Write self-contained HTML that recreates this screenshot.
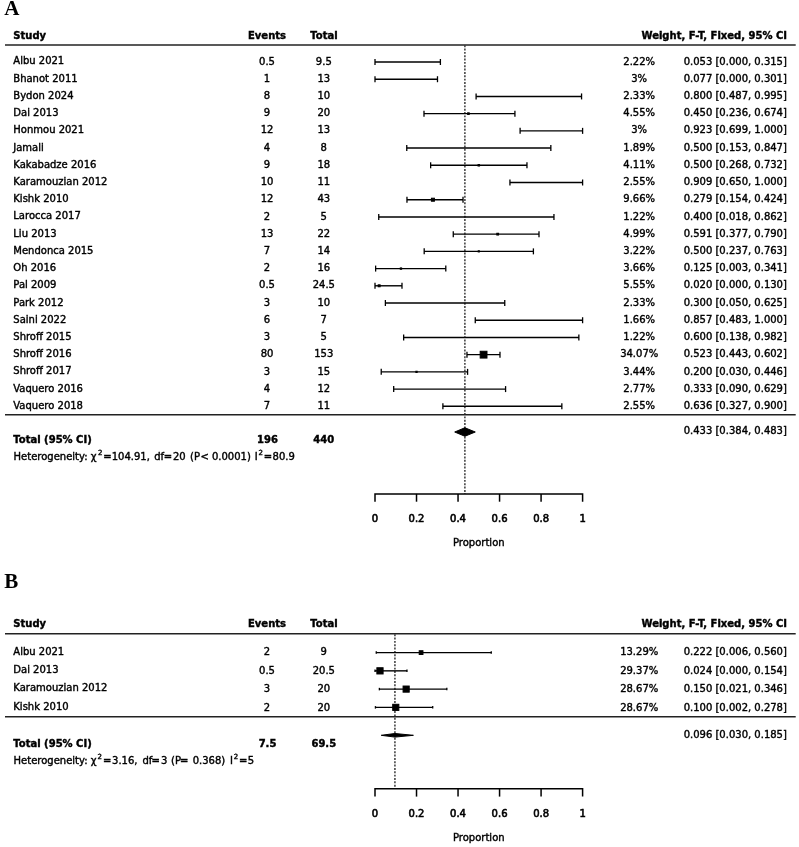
<!DOCTYPE html>
<html><head><meta charset="utf-8"><style>
html,body{margin:0;padding:0;background:#fff;}
svg{display:block;}
text{font-family:"DejaVu Sans",sans-serif;font-size:10px;fill:#000;stroke:#000;stroke-width:0.4px;}
text.tk{stroke-width:0.6px;}
text.lab{font-family:"Liberation Serif",serif;stroke:none;}
line,path,polygon,rect{stroke:#000;fill:#000;}
path{fill:none;}
</style></head><body>
<svg width="799" height="847" viewBox="0 0 799 847">
<text x="4.30" y="15.20" font-weight="bold" style="font-size:21px" class="lab">A</text>
<text x="13.30" y="38.60" font-weight="bold">Study</text>
<text x="267.00" y="38.60" text-anchor="middle" font-weight="bold">Events</text>
<text x="324.00" y="38.60" text-anchor="middle" font-weight="bold">Total</text>
<text x="787.00" y="38.60" text-anchor="end" font-weight="bold">Weight, F-T, Fixed, 95% CI</text>
<line x1="5.00" y1="44.95" x2="795.70" y2="44.95" stroke-width="1.6" style="stroke:#222"/>
<line x1="464.89" y1="44.95" x2="464.89" y2="493.90" stroke-width="1.45" stroke-dasharray="1.95 1.394" stroke-dashoffset="-0.25" style="stroke:#333"/>
<text x="13.30" y="64.45">Albu 2021</text>
<text x="267.00" y="64.60" text-anchor="middle">0.5</text>
<text x="323.80" y="64.60" text-anchor="middle">9.5</text>
<text x="639.20" y="64.60" text-anchor="middle">2.22%</text>
<text x="786.90" y="64.60" text-anchor="end">0.053 [0.000, 0.315]</text>
<line x1="375.00" y1="62.00" x2="440.39" y2="62.00" stroke-width="1.4"/>
<line x1="375.00" y1="59.00" x2="375.00" y2="65.00" stroke-width="1.3"/>
<line x1="440.39" y1="59.00" x2="440.39" y2="65.00" stroke-width="1.3"/>
<text x="13.30" y="81.67">Bhanot 2011</text>
<text x="267.00" y="81.82" text-anchor="middle">1</text>
<text x="323.80" y="81.82" text-anchor="middle">13</text>
<text x="639.20" y="81.82" text-anchor="middle">3%</text>
<text x="786.90" y="81.82" text-anchor="end">0.077 [0.000, 0.301]</text>
<line x1="375.00" y1="79.22" x2="437.49" y2="79.22" stroke-width="1.4"/>
<line x1="375.00" y1="76.22" x2="375.00" y2="82.22" stroke-width="1.3"/>
<line x1="437.49" y1="76.22" x2="437.49" y2="82.22" stroke-width="1.3"/>
<text x="13.30" y="98.89">Bydon 2024</text>
<text x="267.00" y="99.04" text-anchor="middle">8</text>
<text x="323.80" y="99.04" text-anchor="middle">10</text>
<text x="639.20" y="99.04" text-anchor="middle">2.33%</text>
<text x="786.90" y="99.04" text-anchor="end">0.800 [0.487, 0.995]</text>
<line x1="476.10" y1="96.43" x2="581.56" y2="96.43" stroke-width="1.4"/>
<line x1="476.10" y1="93.43" x2="476.10" y2="99.43" stroke-width="1.3"/>
<line x1="581.56" y1="93.43" x2="581.56" y2="99.43" stroke-width="1.3"/>
<text x="13.30" y="116.11">Dai 2013</text>
<text x="267.00" y="116.26" text-anchor="middle">9</text>
<text x="323.80" y="116.26" text-anchor="middle">20</text>
<text x="639.20" y="116.26" text-anchor="middle">4.55%</text>
<text x="786.90" y="116.26" text-anchor="end">0.450 [0.236, 0.674]</text>
<line x1="423.99" y1="113.64" x2="514.92" y2="113.64" stroke-width="1.4"/>
<line x1="423.99" y1="110.64" x2="423.99" y2="116.64" stroke-width="1.3"/>
<line x1="514.92" y1="110.64" x2="514.92" y2="116.64" stroke-width="1.3"/>
<rect x="467.60" y="112.82" width="1.64" height="1.64" stroke="none"/>
<text x="13.30" y="133.33">Honmou 2021</text>
<text x="267.00" y="133.48" text-anchor="middle">12</text>
<text x="323.80" y="133.48" text-anchor="middle">13</text>
<text x="639.20" y="133.48" text-anchor="middle">3%</text>
<text x="786.90" y="133.48" text-anchor="end">0.923 [0.699, 1.000]</text>
<line x1="520.11" y1="130.86" x2="582.60" y2="130.86" stroke-width="1.4"/>
<line x1="520.11" y1="127.86" x2="520.11" y2="133.86" stroke-width="1.3"/>
<line x1="582.60" y1="127.86" x2="582.60" y2="133.86" stroke-width="1.3"/>
<text x="13.30" y="150.55">Jamali</text>
<text x="267.00" y="150.70" text-anchor="middle">4</text>
<text x="323.80" y="150.70" text-anchor="middle">8</text>
<text x="639.20" y="150.70" text-anchor="middle">1.89%</text>
<text x="786.90" y="150.70" text-anchor="end">0.500 [0.153, 0.847]</text>
<line x1="406.76" y1="148.07" x2="550.84" y2="148.07" stroke-width="1.4"/>
<line x1="406.76" y1="145.07" x2="406.76" y2="151.07" stroke-width="1.3"/>
<line x1="550.84" y1="145.07" x2="550.84" y2="151.07" stroke-width="1.3"/>
<text x="13.30" y="167.77">Kakabadze 2016</text>
<text x="267.00" y="167.92" text-anchor="middle">9</text>
<text x="323.80" y="167.92" text-anchor="middle">18</text>
<text x="639.20" y="167.92" text-anchor="middle">4.11%</text>
<text x="786.90" y="167.92" text-anchor="end">0.500 [0.268, 0.732]</text>
<line x1="430.64" y1="165.29" x2="526.96" y2="165.29" stroke-width="1.4"/>
<line x1="430.64" y1="162.29" x2="430.64" y2="168.29" stroke-width="1.3"/>
<line x1="526.96" y1="162.29" x2="526.96" y2="168.29" stroke-width="1.3"/>
<rect x="478.05" y="164.54" width="1.50" height="1.50" stroke="none"/>
<text x="13.30" y="184.99">Karamouzian 2012</text>
<text x="267.00" y="185.14" text-anchor="middle">10</text>
<text x="323.80" y="185.14" text-anchor="middle">11</text>
<text x="639.20" y="185.14" text-anchor="middle">2.55%</text>
<text x="786.90" y="185.14" text-anchor="end">0.909 [0.650, 1.000]</text>
<line x1="509.94" y1="182.50" x2="582.60" y2="182.50" stroke-width="1.4"/>
<line x1="509.94" y1="179.50" x2="509.94" y2="185.50" stroke-width="1.3"/>
<line x1="582.60" y1="179.50" x2="582.60" y2="185.50" stroke-width="1.3"/>
<text x="13.30" y="202.21">Kishk 2010</text>
<text x="267.00" y="202.36" text-anchor="middle">12</text>
<text x="323.80" y="202.36" text-anchor="middle">43</text>
<text x="639.20" y="202.36" text-anchor="middle">9.66%</text>
<text x="786.90" y="202.36" text-anchor="end">0.279 [0.154, 0.424]</text>
<line x1="406.97" y1="199.72" x2="463.02" y2="199.72" stroke-width="1.4"/>
<line x1="406.97" y1="196.72" x2="406.97" y2="202.72" stroke-width="1.3"/>
<line x1="463.02" y1="196.72" x2="463.02" y2="202.72" stroke-width="1.3"/>
<rect x="431.42" y="198.22" width="3.00" height="3.00" stroke="none"/>
<text x="13.30" y="219.43">Larocca 2017</text>
<text x="267.00" y="219.58" text-anchor="middle">2</text>
<text x="323.80" y="219.58" text-anchor="middle">5</text>
<text x="639.20" y="219.58" text-anchor="middle">1.22%</text>
<text x="786.90" y="219.58" text-anchor="end">0.400 [0.018, 0.862]</text>
<line x1="378.74" y1="216.94" x2="553.95" y2="216.94" stroke-width="1.4"/>
<line x1="378.74" y1="213.94" x2="378.74" y2="219.94" stroke-width="1.3"/>
<line x1="553.95" y1="213.94" x2="553.95" y2="219.94" stroke-width="1.3"/>
<text x="13.30" y="236.65">Liu 2013</text>
<text x="267.00" y="236.80" text-anchor="middle">13</text>
<text x="323.80" y="236.80" text-anchor="middle">22</text>
<text x="639.20" y="236.80" text-anchor="middle">4.99%</text>
<text x="786.90" y="236.80" text-anchor="end">0.591 [0.377, 0.790]</text>
<line x1="453.27" y1="234.15" x2="539.00" y2="234.15" stroke-width="1.4"/>
<line x1="453.27" y1="231.15" x2="453.27" y2="237.15" stroke-width="1.3"/>
<line x1="539.00" y1="231.15" x2="539.00" y2="237.15" stroke-width="1.3"/>
<rect x="496.80" y="233.26" width="1.78" height="1.78" stroke="none"/>
<text x="13.30" y="253.87">Mendonca 2015</text>
<text x="267.00" y="254.02" text-anchor="middle">7</text>
<text x="323.80" y="254.02" text-anchor="middle">14</text>
<text x="639.20" y="254.02" text-anchor="middle">3.22%</text>
<text x="786.90" y="254.02" text-anchor="end">0.500 [0.237, 0.763]</text>
<line x1="424.20" y1="251.37" x2="533.40" y2="251.37" stroke-width="1.4"/>
<line x1="424.20" y1="248.37" x2="424.20" y2="254.37" stroke-width="1.3"/>
<line x1="533.40" y1="248.37" x2="533.40" y2="254.37" stroke-width="1.3"/>
<rect x="478.21" y="250.78" width="1.17" height="1.17" stroke="none"/>
<text x="13.30" y="271.09">Oh 2016</text>
<text x="267.00" y="271.24" text-anchor="middle">2</text>
<text x="323.80" y="271.24" text-anchor="middle">16</text>
<text x="639.20" y="271.24" text-anchor="middle">3.66%</text>
<text x="786.90" y="271.24" text-anchor="end">0.125 [0.003, 0.341]</text>
<line x1="375.62" y1="268.58" x2="445.79" y2="268.58" stroke-width="1.4"/>
<line x1="375.62" y1="265.58" x2="375.62" y2="271.58" stroke-width="1.3"/>
<line x1="445.79" y1="265.58" x2="445.79" y2="271.58" stroke-width="1.3"/>
<rect x="400.28" y="267.91" width="1.34" height="1.34" stroke="none"/>
<text x="13.30" y="288.31">Pal 2009</text>
<text x="267.00" y="288.46" text-anchor="middle">0.5</text>
<text x="323.80" y="288.46" text-anchor="middle">24.5</text>
<text x="639.20" y="288.46" text-anchor="middle">5.55%</text>
<text x="786.90" y="288.46" text-anchor="end">0.020 [0.000, 0.130]</text>
<line x1="375.00" y1="285.79" x2="401.99" y2="285.79" stroke-width="1.4"/>
<line x1="375.00" y1="282.79" x2="375.00" y2="288.79" stroke-width="1.3"/>
<line x1="401.99" y1="282.79" x2="401.99" y2="288.79" stroke-width="1.3"/>
<rect x="378.18" y="284.82" width="1.95" height="1.95" stroke="none"/>
<text x="13.30" y="305.53">Park 2012</text>
<text x="267.00" y="305.68" text-anchor="middle">3</text>
<text x="323.80" y="305.68" text-anchor="middle">10</text>
<text x="639.20" y="305.68" text-anchor="middle">2.33%</text>
<text x="786.90" y="305.68" text-anchor="end">0.300 [0.050, 0.625]</text>
<line x1="385.38" y1="303.01" x2="504.75" y2="303.01" stroke-width="1.4"/>
<line x1="385.38" y1="300.01" x2="385.38" y2="306.01" stroke-width="1.3"/>
<line x1="504.75" y1="300.01" x2="504.75" y2="306.01" stroke-width="1.3"/>
<text x="13.30" y="322.75">Saini 2022</text>
<text x="267.00" y="322.90" text-anchor="middle">6</text>
<text x="323.80" y="322.90" text-anchor="middle">7</text>
<text x="639.20" y="322.90" text-anchor="middle">1.66%</text>
<text x="786.90" y="322.90" text-anchor="end">0.857 [0.483, 1.000]</text>
<line x1="475.27" y1="320.23" x2="582.60" y2="320.23" stroke-width="1.4"/>
<line x1="475.27" y1="317.23" x2="475.27" y2="323.23" stroke-width="1.3"/>
<line x1="582.60" y1="317.23" x2="582.60" y2="323.23" stroke-width="1.3"/>
<text x="13.30" y="339.97">Shroff 2015</text>
<text x="267.00" y="340.12" text-anchor="middle">3</text>
<text x="323.80" y="340.12" text-anchor="middle">5</text>
<text x="639.20" y="340.12" text-anchor="middle">1.22%</text>
<text x="786.90" y="340.12" text-anchor="end">0.600 [0.138, 0.982]</text>
<line x1="403.65" y1="337.44" x2="578.86" y2="337.44" stroke-width="1.4"/>
<line x1="403.65" y1="334.44" x2="403.65" y2="340.44" stroke-width="1.3"/>
<line x1="578.86" y1="334.44" x2="578.86" y2="340.44" stroke-width="1.3"/>
<text x="13.30" y="357.19">Shroff 2016</text>
<text x="267.00" y="357.34" text-anchor="middle">80</text>
<text x="323.80" y="357.34" text-anchor="middle">153</text>
<text x="639.20" y="357.34" text-anchor="middle">34.07%</text>
<text x="786.90" y="357.34" text-anchor="end">0.523 [0.443, 0.602]</text>
<line x1="466.97" y1="354.65" x2="499.98" y2="354.65" stroke-width="1.4"/>
<line x1="466.97" y1="351.65" x2="466.97" y2="357.65" stroke-width="1.3"/>
<line x1="499.98" y1="351.65" x2="499.98" y2="357.65" stroke-width="1.3"/>
<rect x="480.18" y="351.26" width="6.80" height="6.80" stroke="none"/>
<text x="13.30" y="374.41">Shroff 2017</text>
<text x="267.00" y="374.56" text-anchor="middle">3</text>
<text x="323.80" y="374.56" text-anchor="middle">15</text>
<text x="639.20" y="374.56" text-anchor="middle">3.44%</text>
<text x="786.90" y="374.56" text-anchor="end">0.200 [0.030, 0.446]</text>
<line x1="381.23" y1="371.87" x2="467.59" y2="371.87" stroke-width="1.4"/>
<line x1="381.23" y1="368.87" x2="381.23" y2="374.87" stroke-width="1.3"/>
<line x1="467.59" y1="368.87" x2="467.59" y2="374.87" stroke-width="1.3"/>
<rect x="415.89" y="371.24" width="1.26" height="1.26" stroke="none"/>
<text x="13.30" y="391.63">Vaquero 2016</text>
<text x="267.00" y="391.78" text-anchor="middle">4</text>
<text x="323.80" y="391.78" text-anchor="middle">12</text>
<text x="639.20" y="391.78" text-anchor="middle">2.77%</text>
<text x="786.90" y="391.78" text-anchor="end">0.333 [0.090, 0.629]</text>
<line x1="393.68" y1="389.08" x2="505.58" y2="389.08" stroke-width="1.4"/>
<line x1="393.68" y1="386.08" x2="393.68" y2="392.08" stroke-width="1.3"/>
<line x1="505.58" y1="386.08" x2="505.58" y2="392.08" stroke-width="1.3"/>
<text x="13.30" y="408.85">Vaquero 2018</text>
<text x="267.00" y="409.00" text-anchor="middle">7</text>
<text x="323.80" y="409.00" text-anchor="middle">11</text>
<text x="639.20" y="409.00" text-anchor="middle">2.55%</text>
<text x="786.90" y="409.00" text-anchor="end">0.636 [0.327, 0.900]</text>
<line x1="442.89" y1="406.30" x2="561.84" y2="406.30" stroke-width="1.4"/>
<line x1="442.89" y1="403.30" x2="442.89" y2="409.30" stroke-width="1.3"/>
<line x1="561.84" y1="403.30" x2="561.84" y2="409.30" stroke-width="1.3"/>
<line x1="5.00" y1="414.80" x2="795.70" y2="414.80" stroke-width="1.6" style="stroke:#222"/>
<text x="13.30" y="443.00" font-weight="bold">Total (95% CI)</text>
<text x="267.50" y="443.00" text-anchor="middle" font-weight="bold">196</text>
<text x="323.80" y="443.00" text-anchor="middle" font-weight="bold">440</text>
<text x="786.90" y="434.00" text-anchor="end">0.433 [0.384, 0.483]</text>
<polygon points="454.72,432.00 464.89,427.75 475.27,432.00 464.89,436.25" stroke="none"/>
<text><tspan x="13.6" y="459.70">Heterogeneity: χ</tspan><tspan x="97.9" y="454.50" style="font-size:7px">2</tspan><tspan x="103.3" y="459.70">=</tspan><tspan x="111.7" y="459.70">104.91,</tspan><tspan x="154.2" y="459.70">df</tspan><tspan x="163.7" y="459.70">=</tspan><tspan x="173.0" y="459.70">20</tspan><tspan x="190.0" y="459.70">(P</tspan><tspan x="200.4" y="459.70">&lt;</tspan><tspan x="211.9" y="459.70">0.0001)</tspan><tspan x="254.75" y="459.70">I</tspan><tspan x="258.5" y="454.50" style="font-size:7px">2</tspan><tspan x="263.7" y="459.70">=</tspan><tspan x="272.6" y="459.70">80.9</tspan></text>
<path d="M375.00,501.70 V493.90 H582.60 V501.70" fill="none" stroke-width="1.5"/>
<line x1="416.52" y1="493.90" x2="416.52" y2="501.70" stroke-width="1.5"/>
<line x1="458.04" y1="493.90" x2="458.04" y2="501.70" stroke-width="1.5"/>
<line x1="499.56" y1="493.90" x2="499.56" y2="501.70" stroke-width="1.5"/>
<line x1="541.08" y1="493.90" x2="541.08" y2="501.70" stroke-width="1.5"/>
<text x="375.00" y="521.70" text-anchor="middle" class="tk">0</text>
<text x="416.52" y="521.70" text-anchor="middle" class="tk">0.2</text>
<text x="458.04" y="521.70" text-anchor="middle" class="tk">0.4</text>
<text x="499.56" y="521.70" text-anchor="middle" class="tk">0.6</text>
<text x="541.08" y="521.70" text-anchor="middle" class="tk">0.8</text>
<text x="582.60" y="521.70" text-anchor="middle" class="tk">1</text>
<text x="478.80" y="545.60" text-anchor="middle">Proportion</text>
<text x="4.30" y="588.10" font-weight="bold" style="font-size:21px" class="lab">B</text>
<text x="13.30" y="626.60" font-weight="bold">Study</text>
<text x="267.00" y="626.60" text-anchor="middle" font-weight="bold">Events</text>
<text x="324.00" y="626.60" text-anchor="middle" font-weight="bold">Total</text>
<text x="787.00" y="626.60" text-anchor="end" font-weight="bold">Weight, F-T, Fixed, 95% CI</text>
<line x1="5.00" y1="633.80" x2="795.70" y2="633.80" stroke-width="1.6" style="stroke:#222"/>
<line x1="394.93" y1="633.80" x2="394.93" y2="788.80" stroke-width="1.45" stroke-dasharray="1.95 1.394" stroke-dashoffset="-0.4" style="stroke:#333"/>
<text x="13.30" y="654.60">Albu 2021</text>
<text x="267.00" y="655.30" text-anchor="middle">2</text>
<text x="323.80" y="655.30" text-anchor="middle">9</text>
<text x="639.20" y="655.30" text-anchor="middle">13.29%</text>
<text x="786.90" y="655.30" text-anchor="end">0.222 [0.006, 0.560]</text>
<line x1="376.25" y1="652.60" x2="491.26" y2="652.60" stroke-width="1.4"/>
<line x1="376.25" y1="651.35" x2="376.25" y2="653.85" stroke-width="1.3"/>
<line x1="491.26" y1="651.35" x2="491.26" y2="653.85" stroke-width="1.3"/>
<rect x="419.21" y="650.73" width="3.75" height="3.75" stroke="none"/>
<text x="13.30" y="672.90">Dai 2013</text>
<text x="267.00" y="673.75" text-anchor="middle">0.5</text>
<text x="323.80" y="673.75" text-anchor="middle">20.5</text>
<text x="639.20" y="673.75" text-anchor="middle">29.37%</text>
<text x="786.90" y="673.75" text-anchor="end">0.024 [0.000, 0.154]</text>
<line x1="375.00" y1="670.85" x2="406.97" y2="670.85" stroke-width="1.4"/>
<line x1="375.00" y1="669.60" x2="375.00" y2="672.10" stroke-width="1.3"/>
<line x1="406.97" y1="669.60" x2="406.97" y2="672.10" stroke-width="1.3"/>
<rect x="376.87" y="667.74" width="6.22" height="6.22" stroke="none"/>
<text x="13.30" y="691.20">Karamouzian 2012</text>
<text x="267.00" y="692.20" text-anchor="middle">3</text>
<text x="323.80" y="692.20" text-anchor="middle">20</text>
<text x="639.20" y="692.20" text-anchor="middle">28.67%</text>
<text x="786.90" y="692.20" text-anchor="end">0.150 [0.021, 0.346]</text>
<line x1="379.36" y1="689.10" x2="446.83" y2="689.10" stroke-width="1.4"/>
<line x1="379.36" y1="687.85" x2="379.36" y2="690.35" stroke-width="1.3"/>
<line x1="446.83" y1="687.85" x2="446.83" y2="690.35" stroke-width="1.3"/>
<rect x="403.08" y="686.04" width="6.13" height="6.13" stroke="none"/>
<text x="13.30" y="709.50">Kishk 2010</text>
<text x="267.00" y="710.65" text-anchor="middle">2</text>
<text x="323.80" y="710.65" text-anchor="middle">20</text>
<text x="639.20" y="710.65" text-anchor="middle">28.67%</text>
<text x="786.90" y="710.65" text-anchor="end">0.100 [0.002, 0.278]</text>
<line x1="375.42" y1="707.35" x2="432.71" y2="707.35" stroke-width="1.4"/>
<line x1="375.42" y1="706.10" x2="375.42" y2="708.60" stroke-width="1.3"/>
<line x1="432.71" y1="706.10" x2="432.71" y2="708.60" stroke-width="1.3"/>
<rect x="392.70" y="704.29" width="6.13" height="6.13" stroke="none"/>
<line x1="5.00" y1="716.70" x2="795.70" y2="716.70" stroke-width="1.6" style="stroke:#222"/>
<text x="13.30" y="746.80" font-weight="bold">Total (95% CI)</text>
<text x="267.50" y="746.80" text-anchor="middle" font-weight="bold">7.5</text>
<text x="323.80" y="746.80" text-anchor="middle" font-weight="bold">69.5</text>
<text x="786.90" y="737.50" text-anchor="end">0.096 [0.030, 0.185]</text>
<polygon points="381.23,735.30 394.93,733.50 413.41,735.30 394.93,737.10" stroke="none"/>
<text><tspan x="13.6" y="764.40">Heterogeneity: χ</tspan><tspan x="97.6" y="759.20" style="font-size:7px">2</tspan><tspan x="103.1" y="764.40">=</tspan><tspan x="112.05" y="764.40">3.16,</tspan><tspan x="142.5" y="764.40">df</tspan><tspan x="151.4" y="764.40">=</tspan><tspan x="161.05" y="764.40">3</tspan><tspan x="171.0" y="764.40">(P</tspan><tspan x="179.9" y="764.40">=</tspan><tspan x="192.7" y="764.40">0.368)</tspan><tspan x="229.9" y="764.40">I</tspan><tspan x="233.8" y="759.20" style="font-size:7px">2</tspan><tspan x="239.1" y="764.40">=</tspan><tspan x="247.85" y="764.40">5</tspan></text>
<path d="M375.00,796.60 V788.80 H582.60 V796.60" fill="none" stroke-width="1.5"/>
<line x1="416.52" y1="788.80" x2="416.52" y2="796.60" stroke-width="1.5"/>
<line x1="458.04" y1="788.80" x2="458.04" y2="796.60" stroke-width="1.5"/>
<line x1="499.56" y1="788.80" x2="499.56" y2="796.60" stroke-width="1.5"/>
<line x1="541.08" y1="788.80" x2="541.08" y2="796.60" stroke-width="1.5"/>
<text x="375.00" y="816.90" text-anchor="middle" class="tk">0</text>
<text x="416.52" y="816.90" text-anchor="middle" class="tk">0.2</text>
<text x="458.04" y="816.90" text-anchor="middle" class="tk">0.4</text>
<text x="499.56" y="816.90" text-anchor="middle" class="tk">0.6</text>
<text x="541.08" y="816.90" text-anchor="middle" class="tk">0.8</text>
<text x="582.60" y="816.90" text-anchor="middle" class="tk">1</text>
<text x="478.80" y="840.60" text-anchor="middle">Proportion</text>
</svg>
</body></html>
